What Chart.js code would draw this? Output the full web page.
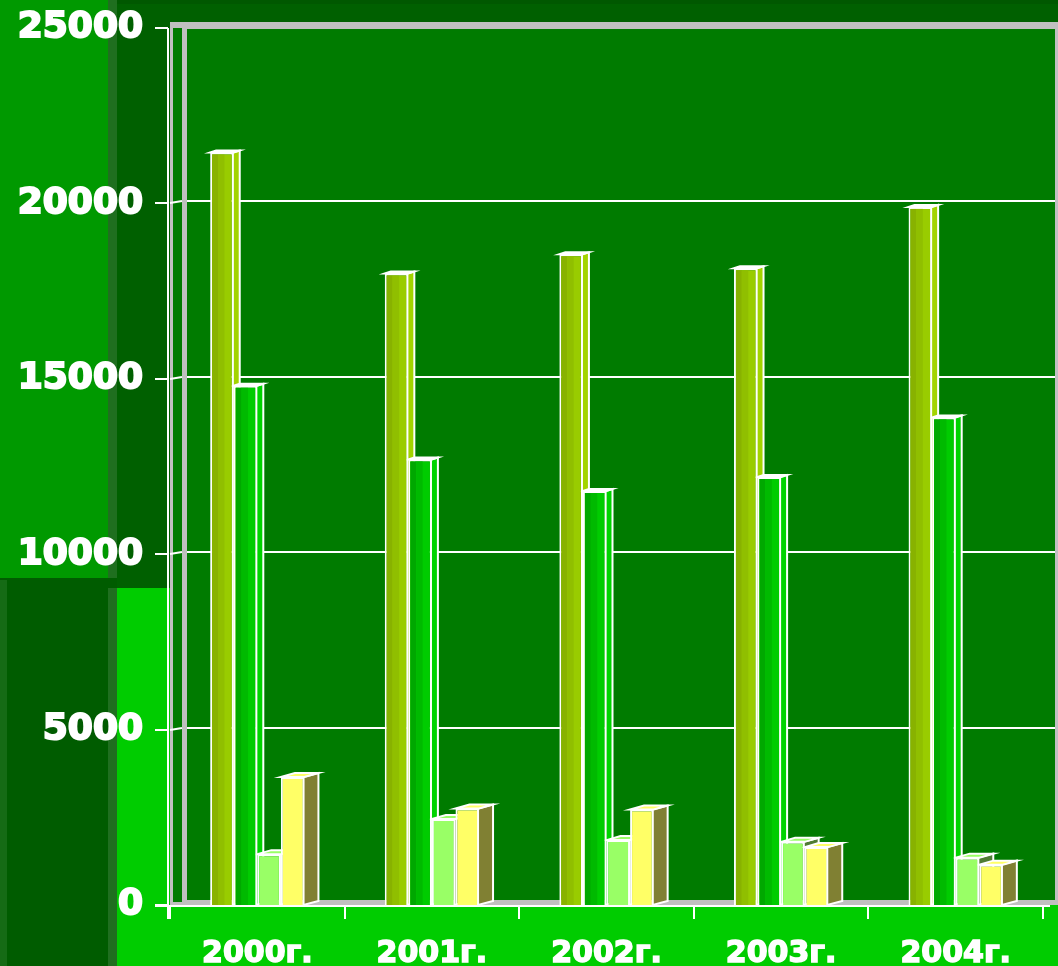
<!DOCTYPE html>
<html>
<head>
<meta charset="utf-8">
<script src="https://cdn.jsdelivr.net/npm/chart.js@4/dist/chart.umd.min.js"></script>
<style>
  html, body { margin: 0; padding: 0; background: #00cc00; overflow: hidden; }
  #contenitore { width: 1058px; height: 966px; }
</style>
</head>
<body>
<div id="contenitore"><canvas id="grafico"></canvas></div>
<script>
// ============================================================
// DATI
// ============================================================
const anni = ["2000г.", "2001г.", "2002г.", "2003г.", "2004г."];
const serie1 = [21450, 18000, 18550, 18150, 19900];
const serie2 = [14800, 12700, 11800, 12200, 13900];
const serie3 = [1450, 2450, 1850, 1800, 1350];
const serie4 = [3650, 2750, 2720, 1650, 1150];
const tickY = [0, 5000, 10000, 15000, 20000, 25000];

// colori: fronte, lato, tetto, strisce scure (solo per i "cilindri")
const stili = [
  { fronte: "#99cc00", lato: "#a3d400", tetto: "#ffffff", strisce: ["#88b200", "#90bf00"], prof: 6, alza: 2 },
  { fronte: "#00cc00", lato: "#00d400", tetto: "#ffffff", strisce: ["#00a800", "#00ba00"], prof: 6, alza: 2 },
  { fronte: "#99ff66", lato: "#4f7d33", tetto: "#99ff66", strisce: null, prof: 14, alza: 4 },
  { fronte: "#ffff66", lato: "#808033", tetto: "#ffff66", strisce: null, prof: 14, alza: 4 }
];

// ============================================================
// PLUGIN - sfondo a pannelli, pareti 3D, griglia e facce barre
// ============================================================
const scena3d = {
  id: "scena3d",
  beforeDraw(chart) {
    const ctx = chart.ctx;
    const a = chart.chartArea;
    const W = chart.width, H = chart.height;
    ctx.save();
    // pannelli di sfondo
    ctx.fillStyle = "#00cc00"; ctx.fillRect(0, 0, W, H);
    ctx.fillStyle = "#009900"; ctx.fillRect(0, 0, 108, 578);
    ctx.fillStyle = "#005c00"; ctx.fillRect(0, 578, 117, H - 578);
    ctx.fillStyle = "#156b15"; ctx.fillRect(0, 580, 7, H - 580);
    ctx.fillStyle = "#006000"; ctx.fillRect(108, 0, W - 108, a.top - 6);
    ctx.fillStyle = "#006000"; ctx.fillRect(117, 0, a.left - 117, 588);
    ctx.fillStyle = "#1f6f1f"; ctx.fillRect(108, 0, 9, 578);
    ctx.fillStyle = "#1f6f1f"; ctx.fillRect(108, 588, 9, H - 588);
    ctx.fillStyle = "#005800"; ctx.fillRect(117, 0, W - 117, 4);

    // pareti: parete sinistra, fondo, pavimento
    const fondoX = a.left + 17, fondoTop = a.top + 1, fondoBot = a.bottom - 5;
    ctx.fillStyle = "#c0c0c0";
    ctx.fillRect(a.left, a.top - 6, W - a.left, a.bottom - a.top + 6);
    ctx.fillStyle = "#007b00";
    ctx.fillRect(a.left + 3, a.top, 9, a.bottom - a.top - 3);
    ctx.fillRect(fondoX, fondoTop, W - 3 - fondoX, fondoBot - fondoTop);

    // griglia orizzontale sulla parete di fondo
    const sy = chart.scales.y;
    ctx.strokeStyle = "#ffffff";
    ctx.lineWidth = 2;
    sy.ticks.forEach(function (t) {
      if (t.value === 0 || t.value === 25000) return;
      const y = Math.round(sy.getPixelForValue(t.value));
      ctx.beginPath();
      ctx.moveTo(a.left, y);
      ctx.lineTo(a.left + 12, y - 2);
      ctx.moveTo(fondoX, y - 2);
      ctx.lineTo(W - 3, y - 2);
      ctx.stroke();
    });
    ctx.restore();
  },
  beforeDatasetsDraw(chart) {
    const ctx = chart.ctx;
    const a = chart.chartArea;
    const sy = chart.scales.y;
    const sx = chart.scales.x;
    ctx.save();
    ctx.strokeStyle = "#ffffff";
    ctx.lineWidth = 2;
    // asse Y con tacche
    ctx.beginPath();
    ctx.moveTo(a.left - 2, a.top);
    ctx.lineTo(a.left - 2, a.bottom + 14);
    sy.ticks.forEach(function (t) {
      const y = Math.round(sy.getPixelForValue(t.value));
      ctx.moveTo(a.left - 15, y);
      ctx.lineTo(a.left - 2, y);
    });
    // asse X con tacche tra le categorie
    ctx.moveTo(a.left - 15, a.bottom + 1);
    ctx.lineTo(a.right + 7, a.bottom + 1);
    const passo = sx.getPixelForValue(1) - sx.getPixelForValue(0);
    for (let i = 0; i <= anni.length; i++) {
      const x = Math.round(sx.getPixelForValue(i) - passo / 2);
      ctx.moveTo(x, a.bottom + 1);
      ctx.lineTo(x, a.bottom + 14);
    }
    ctx.stroke();

    // facce laterali e superiori delle barre (prima dei fronti)
    chart.data.datasets.forEach(function (ds, i) {
      const st = stili[i];
      chart.getDatasetMeta(i).data.forEach(function (el) {
        const p = el.getProps(["x", "y", "base", "width"], true);
        const sx0 = p.x - p.width / 2, dx = p.x + p.width / 2;
        ctx.beginPath();
        ctx.moveTo(dx - 1, p.y);
        ctx.lineTo(dx + st.prof, p.y - st.alza);
        ctx.lineTo(dx + st.prof, p.base - st.alza);
        ctx.lineTo(dx - 1, p.base);
        ctx.closePath();
        ctx.fillStyle = st.lato;
        ctx.fill();
        ctx.stroke();
        ctx.beginPath();
        ctx.moveTo(sx0, p.y);
        ctx.lineTo(sx0 + st.prof, p.y - st.alza);
        ctx.lineTo(dx + st.prof, p.y - st.alza);
        ctx.lineTo(dx, p.y);
        ctx.closePath();
        ctx.fillStyle = st.tetto;
        ctx.fill();
        ctx.stroke();
      });
    });
    ctx.restore();
  },
  afterDatasetsDraw(chart) {
    const ctx = chart.ctx;
    ctx.save();
    chart.data.datasets.forEach(function (ds, i) {
      const st = stili[i];
      if (!st.strisce) return;
      chart.getDatasetMeta(i).data.forEach(function (el) {
        const p = el.getProps(["x", "y", "base", "width"], true);
        const l = p.x - p.width / 2 + 2;
        const w = p.width - 4;
        const h = p.base - p.y - 2;
        ctx.fillStyle = st.strisce[0];
        ctx.fillRect(l, p.y + 2, w * 0.3, h);
        ctx.fillStyle = st.strisce[1];
        ctx.fillRect(l + w * 0.3, p.y + 2, w * 0.33, h);
      });
    });
    ctx.restore();
  }
};

// ============================================================
// GRAFICO
// ============================================================
function creaDataset(valori, i) {
  return {
    label: "Серия " + (i + 1),
    data: valori,
    backgroundColor: stili[i].fronte,
    borderColor: "#ffffff",
    borderWidth: 2,
    borderSkipped: "bottom",
    categoryPercentage: 0.54,
    barPercentage: 1.0
  };
}

new Chart(document.getElementById("grafico"), {
  type: "bar",
  data: {
    labels: anni,
    datasets: [serie1, serie2, serie3, serie4].map(creaDataset)
  },
  options: {
    responsive: true,
    maintainAspectRatio: false,
    animation: false,
    layout: { padding: { top: 28, right: 15, left: 0, bottom: 0 } },
    plugins: { legend: { display: false }, tooltip: { enabled: false } },
    scales: {
      x: {
        grid: { display: false, drawTicks: false },
        border: { display: false },
        ticks: {
          color: "#ffffff",
          padding: 31,
          textStrokeColor: "#ffffff",
          textStrokeWidth: 1.5,
          font: { family: "DejaVu Sans", size: 30, weight: "bold" }
        },
        afterFit: function (s) { s.height = 61; s.paddingLeft = 0; s.paddingRight = 0; }
      },
      y: {
        min: 0,
        max: 25000,
        afterBuildTicks: function (s) { s.ticks = tickY.map(function (v) { return { value: v }; }); },
        grid: { display: false, drawTicks: false },
        border: { display: false },
        ticks: {
          color: "#ffffff",
          padding: 27,
          textStrokeColor: "#ffffff",
          textStrokeWidth: 2,
          font: { family: "DejaVu Sans", size: 36, weight: "bold" },
          callback: function (v) { return String(v); }
        },
        afterFit: function (s) { s.width = 170; s.paddingTop = 0; s.paddingBottom = 0; }
      }
    }
  },
  plugins: [scena3d]
});
</script>
</body>
</html>
